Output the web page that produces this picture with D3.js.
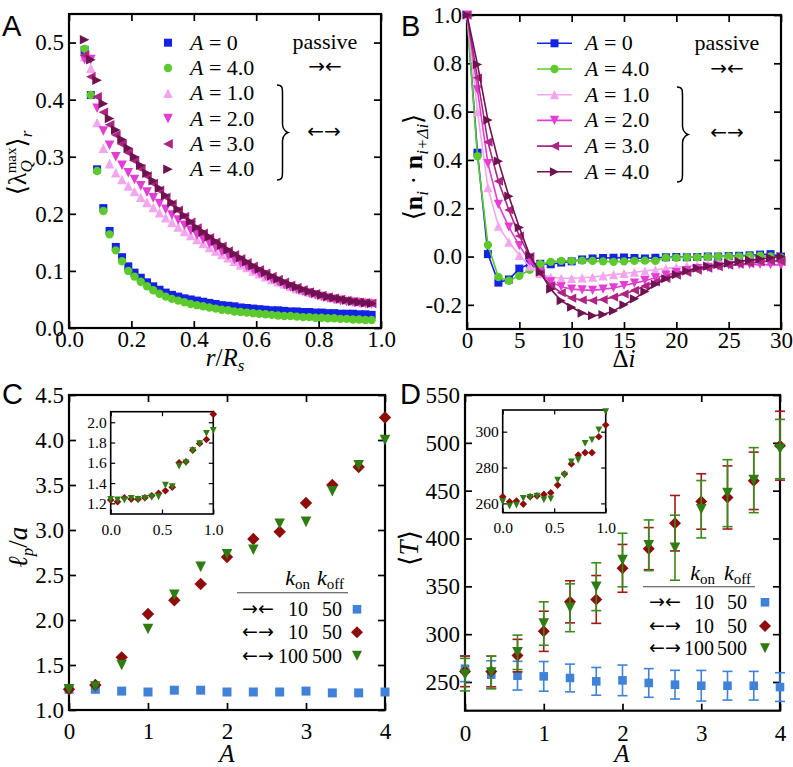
<!DOCTYPE html>
<html><head><meta charset="utf-8">
<script src="https://cdn.jsdelivr.net/npm/d3@7"></script>
<style>
body{margin:0;background:#fff;}
svg{display:block;}
svg text{font-family:'Liberation Serif','DejaVu Serif','Noto Serif','Times New Roman',Times,serif;}
svg text.sans{font-family:'Liberation Sans','DejaVu Sans',Arial,sans-serif;}
svg text.arrow{font-family:'DejaVu Sans','Noto Sans',sans-serif;}
</style></head><body>
<svg id="c" width="793" height="767"></svg>
<script>
// ---------------- DATA ----------------
// Panel A
const rVals = [0.05,0.07,0.09,0.11,0.13,0.15,0.17,0.19,0.21,0.23,0.25,0.27,0.29,0.31,0.33,0.35,0.37,0.39,0.41,0.43,0.45,0.47,0.49,0.51,0.53,0.55,0.57,0.59,0.61,0.63,0.65,0.67,0.69,0.71,0.73,0.75,0.77,0.79,0.81,0.83,0.85,0.87,0.89,0.91,0.93,0.95,0.97];
const lamA0 = [0.487,0.408,0.278,0.210,0.170,0.142,0.124,0.108,0.097,0.088,0.080,0.073,0.067,0.062,0.058,0.055,0.052,0.050,0.048,0.046,0.044,0.042,0.040,0.039,0.038,0.036,0.035,0.034,0.033,0.032,0.031,0.031,0.030,0.029,0.029,0.028,0.028,0.027,0.027,0.026,0.026,0.025,0.025,0.025,0.024,0.024,0.023];
const lamP4 = [0.489,0.408,0.275,0.205,0.164,0.136,0.117,0.100,0.090,0.081,0.073,0.066,0.060,0.055,0.051,0.048,0.045,0.042,0.040,0.038,0.036,0.034,0.032,0.031,0.029,0.028,0.027,0.026,0.025,0.024,0.023,0.022,0.021,0.021,0.020,0.019,0.019,0.018,0.018,0.017,0.017,0.016,0.016,0.015,0.015,0.014,0.014];
const lamA1 = [0.475,0.455,0.360,0.315,0.288,0.272,0.260,0.249,0.239,0.229,0.220,0.211,0.202,0.193,0.185,0.177,0.169,0.162,0.155,0.148,0.141,0.135,0.129,0.123,0.117,0.111,0.106,0.100,0.095,0.090,0.085,0.081,0.077,0.073,0.069,0.066,0.063,0.060,0.057,0.055,0.053,0.051,0.049,0.048,0.047,0.046,0.045];
const lamA2 = [0.470,0.470,0.385,0.345,0.320,0.300,0.285,0.272,0.260,0.249,0.238,0.228,0.218,0.208,0.198,0.189,0.180,0.171,0.163,0.155,0.148,0.141,0.134,0.127,0.120,0.114,0.108,0.102,0.096,0.091,0.086,0.081,0.076,0.072,0.068,0.064,0.061,0.058,0.055,0.052,0.050,0.048,0.046,0.045,0.044,0.043,0.042];
const lamA3 = [0.478,0.440,0.405,0.378,0.356,0.338,0.322,0.307,0.293,0.279,0.266,0.253,0.241,0.229,0.217,0.206,0.195,0.185,0.175,0.166,0.158,0.150,0.143,0.135,0.128,0.121,0.114,0.108,0.102,0.096,0.090,0.085,0.080,0.075,0.071,0.067,0.063,0.060,0.057,0.054,0.052,0.050,0.048,0.046,0.045,0.044,0.043];
const lamA4 = [0.505,0.470,0.434,0.393,0.367,0.347,0.330,0.315,0.300,0.285,0.271,0.258,0.245,0.232,0.220,0.208,0.197,0.186,0.176,0.168,0.160,0.152,0.145,0.137,0.130,0.123,0.116,0.109,0.103,0.097,0.091,0.086,0.081,0.076,0.072,0.068,0.064,0.061,0.058,0.055,0.053,0.051,0.049,0.047,0.045,0.044,0.043];

// Panel B
const dI = [0,1,2,3,4,5,6,7,8,9,10,11,12,13,14,15,16,17,18,19,20,21,22,23,24,25,26,27,28,29,30];
const corA0 = [1.0,0.43,0.01,-0.108,-0.095,-0.05,-0.03,-0.03,-0.032,-0.025,-0.02,-0.012,-0.008,-0.006,-0.005,-0.004,-0.006,-0.008,-0.005,-0.003,-0.002,-0.003,-0.002,0.0,0.0,0.002,0.003,0.005,0.008,0.01,0.0];
const corP4 = [1.0,0.415,0.048,-0.085,-0.1,-0.08,-0.055,-0.032,-0.022,-0.018,-0.018,-0.017,-0.018,-0.02,-0.022,-0.02,-0.018,-0.017,-0.018,-0.005,-0.005,-0.003,-0.003,-0.002,0.0,0.0,0.0,0.002,0.003,0.0,-0.005];
const corA1 = [1.0,0.60,0.285,0.126,0.06,0.005,-0.04,-0.07,-0.085,-0.09,-0.09,-0.088,-0.085,-0.08,-0.075,-0.07,-0.065,-0.06,-0.055,-0.05,-0.045,-0.04,-0.035,-0.032,-0.03,-0.025,-0.02,-0.015,-0.02,-0.02,-0.02];
const corA2 = [1.0,0.69,0.385,0.216,0.122,0.045,-0.02,-0.065,-0.105,-0.125,-0.135,-0.138,-0.14,-0.135,-0.13,-0.12,-0.11,-0.1,-0.088,-0.077,-0.067,-0.058,-0.05,-0.045,-0.04,-0.036,-0.034,-0.033,-0.033,-0.034,-0.035];
const corA3 = [1.0,0.74,0.474,0.312,0.193,0.085,0.0,-0.07,-0.12,-0.15,-0.172,-0.18,-0.182,-0.178,-0.168,-0.155,-0.14,-0.122,-0.105,-0.09,-0.077,-0.066,-0.056,-0.048,-0.042,-0.036,-0.032,-0.028,-0.022,-0.018,-0.02];
const corA4 = [1.0,0.795,0.565,0.395,0.25,0.12,0.005,-0.065,-0.135,-0.183,-0.21,-0.234,-0.245,-0.24,-0.225,-0.2,-0.175,-0.145,-0.115,-0.092,-0.075,-0.06,-0.048,-0.04,-0.033,-0.027,-0.02,-0.015,-0.01,-0.005,0.0];

// Panel C
const aVals = [0,0.3333,0.6667,1,1.3333,1.6667,2,2.3333,2.6667,3,3.3333,3.6667,4];
const lpPassive = [1.23,1.23,1.21,1.20,1.22,1.22,1.20,1.20,1.20,1.21,1.19,1.19,1.20];
const lpAct10 = [1.23,1.278,1.585,2.067,2.22,2.40,2.70,2.90,2.98,3.30,3.50,3.70,4.25];
const lpAct100 = [1.23,1.26,1.50,1.90,2.28,2.59,2.73,2.78,3.07,3.09,3.43,3.72,4.00];
const aFine = [0,0.0667,0.1333,0.2,0.2667,0.3333,0.4,0.4667,0.5333,0.6,0.6667,0.7333,0.8,0.8667,0.9333,1.0];
const lpFine10 = [1.233,1.216,1.255,1.242,1.24,1.255,1.275,1.30,1.325,1.36,1.60,1.61,1.725,1.79,1.83,2.08];
const lpFine100 = [1.24,1.233,1.233,1.25,1.24,1.25,1.26,1.265,1.38,1.365,1.567,1.60,1.72,1.79,1.89,1.92];

// Panel D
const tPassive = [263.9,257.7,256.6,255.9,254.2,250.7,251.7,249,247.2,246.1,246.1,246.1,244.7];
const tPassiveErr = [13.5,14.5,15,15.5,14.5,14.5,16,15,15,16,15,15,15];
const tAct10 = [261.1,261,277.6,303,333.8,336.3,368.8,389.4,416,438.7,442.9,460.3,497];
const tAct10Err = [16,16,17,21,22,25,25,22,29,29,33,30,36];
const tAct100 = [257.7,260,281,311.1,327.6,349.6,377.5,392.9,390.4,430.6,447.4,461,493.5];
const tAct100Err = [17,17,18,22.7,25,25,28,26.5,34,30,35,34,31];
const tFine10 = [263.7,260.9,261.3,259.6,263.7,264.1,265,265.9,270.2,276.4,282,287,288.3,288.3,297.2,303.7];
const tFine100 = [260.9,258.5,259,262.8,263.4,264.1,262,262.5,273,275.8,283.2,284.2,293.5,295.4,301,311.2];

// tick labels
const ticksAx = [0,0.2,0.4,0.6,0.8,1.0], ticksAy = [0,0.1,0.2,0.3,0.4,0.5];
const ticksBx = [0,5,10,15,20,25,30], ticksBy = [-0.2,0,0.2,0.4,0.6,0.8,1.0];
const ticksCx = [0,1,2,3,4], ticksCy = [1.0,1.5,2.0,2.5,3.0,3.5,4.0,4.5];
const ticksDx = [0,1,2,3,4], ticksDy = [250,300,350,400,450,500,550];
const ticksInx = [0,0.5,1.0], ticksCiy = [1.2,1.4,1.6,1.8,2.0], ticksDiy = [260,280,300];

// ---------------- STYLE ----------------
const col = {blue:'#1222e6', green:'#5cc92c', a1:'#f3a6ee', a2:'#e23ed4', a3:'#ad2583', a4:'#6f1250',
  cBlue:'#3f82d8', cRed:'#8e0c0c', cGreen:'#2f7d12'};

const svg = d3.select('#c');

function mk(type, s){
  switch(type){
    case 'square': return `M${-s},${-s}h${2*s}v${2*s}h${-2*s}Z`;
    case 'circle': return d3.symbol(d3.symbolCircle, Math.PI*s*s)();
    case 'up': return `M0,${-s}L${s},${s}L${-s},${s}Z`;
    case 'down': return `M0,${s}L${s},${-s}L${-s},${-s}Z`;
    case 'left': return `M${-s},0L${s},${-s}L${s},${s}Z`;
    case 'right': return `M${s},0L${-s},${-s}L${-s},${s}Z`;
    case 'diamond': return `M0,${-s}L${s},0L0,${s}L${-s},0Z`;
  }
}

function panel(o){
  const g = svg.append('g');
  const x = d3.scaleLinear().domain(o.xd).range(o.xr);
  const y = d3.scaleLinear().domain(o.yd).range(o.yr);
  const L = o.tick||7, fs = o.fs||23;
  const [x0,x1] = o.xr, [yb,yt] = o.yr;
  if(o.bg) g.append('rect').attr('x',x0).attr('y',yt).attr('width',x1-x0).attr('height',yb-yt).attr('fill',o.bg);
  const ax = (gen, tr) => {
    const a = g.append('g').attr('transform', tr).call(gen);
    a.attr('font-family',null).attr('font-size',null);
    a.select('.domain').remove();
    a.selectAll('line').attr('stroke','#000').attr('stroke-width', o.tw||1.7);
    a.selectAll('text').attr('font-size',fs).attr('fill','#000');
    return a;
  };
  ax(d3.axisBottom(x).tickValues(o.xt).tickSize(-L).tickPadding(o.xpad).tickFormat(o.xf), `translate(0,${yb})`);
  ax(d3.axisTop(x).tickValues(o.xt).tickSize(-L).tickFormat(''), `translate(0,${yt})`);
  ax(d3.axisLeft(y).tickValues(o.yt).tickSize(-L).tickPadding(o.ypad).tickFormat(o.yf), `translate(${x0},0)`);
  ax(d3.axisRight(y).tickValues(o.yt).tickSize(-L).tickFormat(''), `translate(${x1},0)`);
  g.append('rect').attr('x',x0).attr('y',yt).attr('width',x1-x0).attr('height',yb-yt)
    .attr('fill','none').attr('stroke','#000').attr('stroke-width',o.sw||2.2);
  return {g,x,y};
}
const f1 = v => v.toFixed(1), f0 = v => String(v);

function scatter(p, xs, ys, type, s, color){
  p.g.append('g').selectAll('path').data(xs.map((v,i)=>[v,ys[i]])).join('path')
    .attr('d', mk(type,s)).attr('transform', d=>`translate(${p.x(d[0])},${p.y(d[1])})`)
    .attr('fill', color);
}
function label(parent, x, y, parts, opts={}){
  const t = parent.append('text').attr('x',x).attr('y',y)
    .attr('font-size',opts.fs||26).attr('text-anchor',opts.anchor||'middle').attr('fill','#000');
  if(opts.cls) t.attr('class',opts.cls);
  if(opts.ls!==undefined) t.attr('letter-spacing',opts.ls);
  if(opts.rot) t.attr('transform',`rotate(-90,${x},${y})`);
  parts.forEach(pt=>{
    const ts = t.append('tspan').text(pt.t);
    if(pt.it) ts.attr('font-style','italic');
    if(pt.b) ts.attr('font-weight','bold');
    if(pt.fs) ts.attr('font-size',pt.fs);
    if(pt.dy!==undefined) ts.attr('dy',pt.dy);
    if(pt.dx!==undefined) ts.attr('dx',pt.dx);
  });
  return t;
}
function brace(x, y0, y1, w){
  const m=(y0+y1)/2, h=x+w*0.5;
  const d=`M${x},${y0} C${h},${y0} ${h},${y0+3} ${h},${y0+9} L${h},${m-8} C${h},${m-2} ${x+w},${m} ${x+w},${m} C${x+w},${m} ${h},${m+2} ${h},${m+8} L${h},${y1-9} C${h},${y1-3} ${h},${y1} ${x},${y1}`;
  svg.append('path').attr('d',d).attr('fill','none').attr('stroke','#000').attr('stroke-width',1.5);
}
function letter(x,y,s){ svg.append('text').attr('class','sans').attr('x',x).attr('y',y).attr('font-size',29).text(s); }

// ---------------- PANEL A ----------------
const pA = panel({xd:[0,1], xr:[69,381], yd:[0,0.55], yr:[328,14], xt:ticksAx, yt:ticksAy, xf:f1, yf:f1, xpad:3, ypad:5});
const seriesA = [[lamA0,'square',4,col.blue],[lamP4,'circle',4.2,col.green],[lamA1,'up',4.8,col.a1],[lamA2,'down',4.8,col.a2],[lamA3,'left',4.8,col.a3],[lamA4,'right',4.8,col.a4]];
seriesA.forEach(s=>scatter(pA, rVals, s[0], s[1], s[2], s[3]));
const legLabels = ['0','4.0','1.0','2.0','3.0','4.0'];
seriesA.forEach((s,i)=>{
  const yy = 42.7 + i*25.3;
  svg.append('path').attr('d',mk(s[1],s[2])).attr('transform',`translate(168,${yy})`).attr('fill',s[3]);
  label(svg, 190, yy+7, [{t:'A',it:1},{t:' = '+legLabels[i]}], {fs:22, anchor:'start'});
});
label(svg, 325, 49, [{t:'passive'}], {fs:22});
label(svg, 325, 73, [{t:'→←'}], {fs:20, cls:'arrow'});
brace(277, 85, 180, 11);
label(svg, 324, 138, [{t:'←→'}], {fs:20, cls:'arrow'});
label(svg, 225, 366, [{t:'r',it:1},{t:'/'},{t:'R',it:1},{t:'s',it:1,fs:17,dy:5}], {fs:25});
label(svg, 26, 163, [{t:'⟨λ'},{t:'Q',it:1,fs:17,dy:6},{t:'max',fs:15,dx:-13,dy:-16},{t:'⟩',dy:10},{t:'r',it:1,fs:17,dy:6}], {fs:26, rot:1});
letter(2,36,'A');

// ---------------- PANEL B ----------------
const pB = panel({xd:[0,30], xr:[467,781], yd:[-0.3,1.0], yr:[329,15], xt:ticksBx, yt:ticksBy, xf:f0, yf:f1, xpad:3, ypad:5});
const seriesB = [[corA0,'square',4,col.blue],[corP4,'circle',4.2,col.green],[corA1,'up',4.6,col.a1],[corA2,'down',4.6,col.a2],[corA3,'left',4.6,col.a3],[corA4,'right',4.6,col.a4]];
const lineGen = d3.line().x(d=>pB.x(d[0])).y(d=>pB.y(d[1]));
seriesB.forEach(s=>{
  pB.g.append('path').datum(dI.map((v,i)=>[v,s[0][i]])).attr('d',lineGen).attr('fill','none').attr('stroke',s[3]).attr('stroke-width',1.6);
  scatter(pB, dI, s[0], s[1], s[2], s[3]);
});
seriesB.forEach((s,i)=>{
  const yy = 43.3 + i*25.7;
  svg.append('line').attr('x1',537).attr('x2',572).attr('y1',yy).attr('y2',yy).attr('stroke',s[3]).attr('stroke-width',1.6);
  svg.append('path').attr('d',mk(s[1],s[2])).attr('transform',`translate(554.5,${yy})`).attr('fill',s[3]);
  label(svg, 585, yy+7, [{t:'A',it:1},{t:' = '+legLabels[i]}], {fs:22, anchor:'start'});
});
label(svg, 727, 50, [{t:'passive'}], {fs:22});
label(svg, 727, 75, [{t:'→←'}], {fs:20, cls:'arrow'});
brace(677, 87, 182, 11);
label(svg, 727, 139, [{t:'←→'}], {fs:20, cls:'arrow'});
label(svg, 624, 367, [{t:'Δ'},{t:'i',it:1}], {fs:25});
label(svg, 422, 167, [{t:'⟨'},{t:'n',b:1},{t:'i',it:1,fs:17,dy:6},{t:' · ',dy:-6},{t:'n',b:1},{t:'i+Δi',it:1,fs:17,dy:6},{t:'⟩',dy:-6}], {fs:26, rot:1});
letter(401,36,'B');

// ---------------- PANEL C ----------------
const pC = panel({xd:[0,4], xr:[69,385], yd:[1,4.5], yr:[710,395], xt:ticksCx, yt:ticksCy, xf:f0, yf:f1, xpad:13, ypad:5});
scatter(pC, aVals, lpPassive, 'square', 4.5, col.cBlue);
scatter(pC, aVals, lpAct10, 'diamond', 6.2, col.cRed);
scatter(pC, aVals, lpAct100, 'down', 5.3, col.cGreen);
// inset C
const iC = panel({xd:[0,1], xr:[110.7,213.3], yd:[1.095,2.104], yr:[514,411.7], xt:ticksInx, yt:ticksCiy, xf:f1, yf:f1, xpad:10, ypad:4, fs:15.5, tick:4.5, tw:1.2, sw:1.6, bg:'#fff'});
scatter(iC, aFine, lpFine10, 'diamond', 3.8, col.cRed);
scatter(iC, aFine, lpFine100, 'down', 3.4, col.cGreen);
// legend C
function kLegend(xOn, xOff, yHead, lineX0, lineX1, lineY, xArrow, xNum1, xNum2, xMk, rows){
  label(svg, xOn, yHead, [{t:'k',it:1},{t:'on',fs:15,dy:4}], {fs:22, anchor:'end'});
  label(svg, xOff, yHead, [{t:'k',it:1},{t:'off',fs:15,dy:4}], {fs:22, anchor:'end'});
  svg.append('line').attr('x1',lineX0).attr('x2',lineX1).attr('y1',lineY).attr('y2',lineY).attr('stroke','#444').attr('stroke-width',1.1);
  rows.forEach(r=>{
    label(svg, xArrow, r.y+6, [{t:r.arrow}], {fs:19, cls:'arrow'});
    label(svg, xNum1, r.y+7, [{t:r.n1}], {fs:20, anchor:'end'});
    label(svg, xNum2, r.y+7, [{t:r.n2}], {fs:20, anchor:'end'});
    svg.append('path').attr('d',mk(r.type,r.s)).attr('transform',`translate(${xMk},${r.y})`).attr('fill',r.c);
  });
}
kLegend(310, 344, 585, 237, 348, 592.7, 258, 308, 342, 357, [
  {y:609.3, arrow:'→←', n1:'10', n2:'50', type:'square', s:4.3, c:col.cBlue},
  {y:632.3, arrow:'←→', n1:'10', n2:'50', type:'diamond', s:6, c:col.cRed},
  {y:655.7, arrow:'←→', n1:'100', n2:'500', type:'down', s:5, c:col.cGreen}]);
label(svg, 227, 762, [{t:'A',it:1}], {fs:25});
label(svg, 27, 547, [{t:'ℓ',it:1},{t:'p',it:1,fs:17,dy:6},{t:'/',dy:-6},{t:'a',it:1}], {fs:27, rot:1});
letter(2,404,'C');

// ---------------- PANEL D ----------------
const pD = panel({xd:[0,4], xr:[465,780], yd:[220,550], yr:[710.7,395], xt:ticksDx, yt:ticksDy, xf:f0, yf:f0, xpad:14, ypad:5});
function errbars(p, xs, ys, es, color){
  const g = p.g.append('g').attr('stroke',color).attr('stroke-width',1.6);
  xs.forEach((v,i)=>{
    const X=p.x(v), y1=p.y(ys[i]-es[i]), y2=p.y(ys[i]+es[i]);
    g.append('line').attr('x1',X).attr('x2',X).attr('y1',y1).attr('y2',y2);
    g.append('line').attr('x1',X-5).attr('x2',X+5).attr('y1',y1).attr('y2',y1);
    g.append('line').attr('x1',X-5).attr('x2',X+5).attr('y1',y2).attr('y2',y2);
  });
}
errbars(pD, aVals, tPassive, tPassiveErr, col.cBlue);
scatter(pD, aVals, tPassive, 'square', 4.3, col.cBlue);
errbars(pD, aVals, tAct10, tAct10Err, '#a01818');
scatter(pD, aVals, tAct10, 'diamond', 6, col.cRed);
errbars(pD, aVals, tAct100, tAct100Err, '#3c8a1c');
scatter(pD, aVals, tAct100, 'down', 5.3, col.cGreen);
// inset D
const iD = panel({xd:[0,1], xr:[502.7,605.7], yd:[254.8,312.1], yr:[512.7,410], xt:ticksInx, yt:ticksDiy, xf:f1, yf:f0, xpad:9, ypad:4, fs:15.5, tick:4.5, tw:1.2, sw:1.6, bg:'#fff'});
scatter(iD, aFine, tFine10, 'diamond', 3.8, col.cRed);
scatter(iD, aFine, tFine100, 'down', 3.4, col.cGreen);
kLegend(715, 751, 580, 643, 755, 586.7, 665, 714, 747, 765, [
  {y:602.3, arrow:'→←', n1:'10', n2:'50', type:'square', s:4.3, c:col.cBlue},
  {y:626, arrow:'←→', n1:'10', n2:'50', type:'diamond', s:6, c:col.cRed},
  {y:648.3, arrow:'←→', n1:'100', n2:'500', type:'down', s:5, c:col.cGreen}]);
label(svg, 622, 762, [{t:'A',it:1}], {fs:25});
label(svg, 418, 548, [{t:'⟨'},{t:'T',it:1},{t:'⟩'}], {fs:27, rot:1});
letter(400,404,'D');
</script>
</body></html>
